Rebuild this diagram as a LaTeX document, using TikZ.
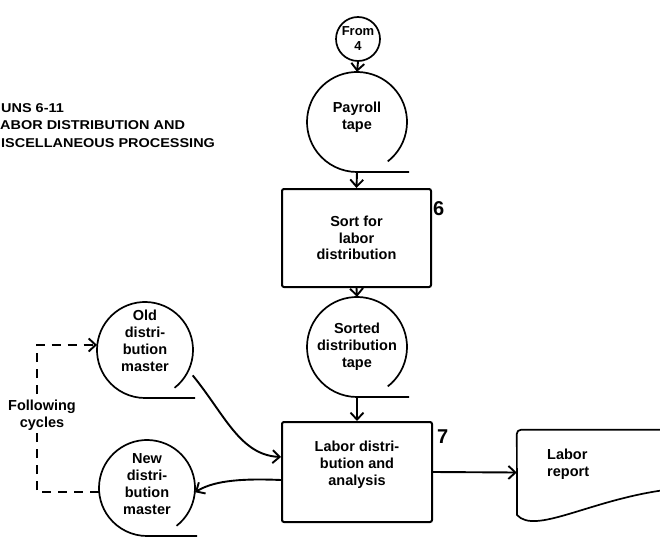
\documentclass[tikz,border=0pt]{standalone}
\usepackage{fontspec}
\setmainfont{Liberation Sans}
\usetikzlibrary{arrows.meta,calc}

% tape symbol: circle open at lower right, running out along a tangent at the bottom
\newcommand\tapereel[2]{%
  \draw[outline] ($(#1.center)+(-52:#2)$) arc[start angle=-52,end angle=270,radius=#2] -- ++(#2+2,0);}

\begin{document}
\begin{tikzpicture}[x=1pt,y=1pt,
  every node/.style={font=\fontsize{14.5}{16.8}\selectfont\bfseries, inner sep=0pt},
  txt/.style={align=center},
  tape/.style={circle, minimum size=#1, draw=none},
  outline/.style={line width=1.7pt},
  procbox/.style={draw, line width=2pt, rounded corners=2pt},
  flow/.style={line width=1.9pt, -{Straight Barb[length=7pt,width=13pt,line width=1.9pt]}},
  feedback/.style={flow, dash pattern=on 9pt off 7pt},
  runno/.style={anchor=west, font=\fontsize{20}{20}\selectfont\bfseries},
  title/.style={anchor=base west, font=\fontsize{12.8}{14}\selectfont\bfseries}
]
\useasboundingbox (0,0) rectangle (660,539);
\clip (0,0) rectangle (660,539);

% heading
\node[title] (t1) at (1,426.5) {\scalebox{1.13}[1]{UNS 6-11}};
\node[title] (t2) at (0,409.5) {\scalebox{1.13}[1]{ABOR DISTRIBUTION AND}};
\node[title] (t3) at (1,391.5) {\scalebox{1.13}[1]{ISCELLANEOUS PROCESSING}};

% connector from run 4
\node[draw, circle, outline, minimum size=44pt, txt, font=\fontsize{13}{15}\selectfont\bfseries] (from) at (358,500) {From\\4};

% run 6: sort
\node[tape=100pt, label={[txt,yshift=5]center:Payroll\\tape}] (pay) at (357,417) {};
\tapereel{pay}{50}
\node[procbox, minimum width=149pt, minimum height=98pt, txt] (sort) at (356.5,301) {Sort for\\labor\\distribution};
\node[runno] (r6) at (433,330) {6};
\node[tape=100pt, label={[txt]center:Sorted\\distribution\\tape}] (srt) at (357,192) {};
\tapereel{srt}{50}

% run 7: labor distribution
\node[procbox, minimum width=150pt, minimum height=100pt,
      label={[txt,yshift=7]center:Labor distri-\\bution and\\analysis}] (lab) at (357,67) {};
\node[runno] (r7) at (437,102) {7};

\node[tape=96pt, label={[txt,yshift=9]center:Old\\distri-\\bution\\master}] (old) at (145,189) {};
\tapereel{old}{48}
\node[tape=96pt, label={[txt,yshift=4]center:New\\distri-\\bution\\master}] (new) at (147,51) {};
\tapereel{new}{48}

% report document, running off to the right
\node[minimum width=163pt, minimum height=85pt] (rep) at (598.5,66.5) {};
\draw[outline, rounded corners=4pt] (rep.north east) -- (rep.north west) [sharp corners] -- (517,24)
  .. controls (535,4) and (590,39) .. (665,49);
\node[anchor=west, align=left] (reptxt) at (547,75) {Labor\\report};

% flow lines
\draw[flow] (from.south) -- (pay.north);
\draw[flow] (pay.south) -- (sort.north);
\draw[flow] (sort.south) -- (srt.north);
\draw[flow] (srt.south) -- (lab.north);
\draw[flow] (lab.east) -- (rep.west);
\draw[flow] ($(old.center)+(-28:54)$) .. controls (225,124) and (240,84) .. ($(lab.west)+(0,15)$);
\draw[flow] ($(lab.west)+(0,-8)$) .. controls (235,61) and (212,57) .. (new.-5);

% new master becomes old master in the next cycle
\draw[feedback] (new.185) -- ++(-62,0) |- (old.174);
\node[txt, fill=white, inner sep=2pt] (fc) at (42,123.5) {Following\\cycles};
\end{tikzpicture}
\end{document}
